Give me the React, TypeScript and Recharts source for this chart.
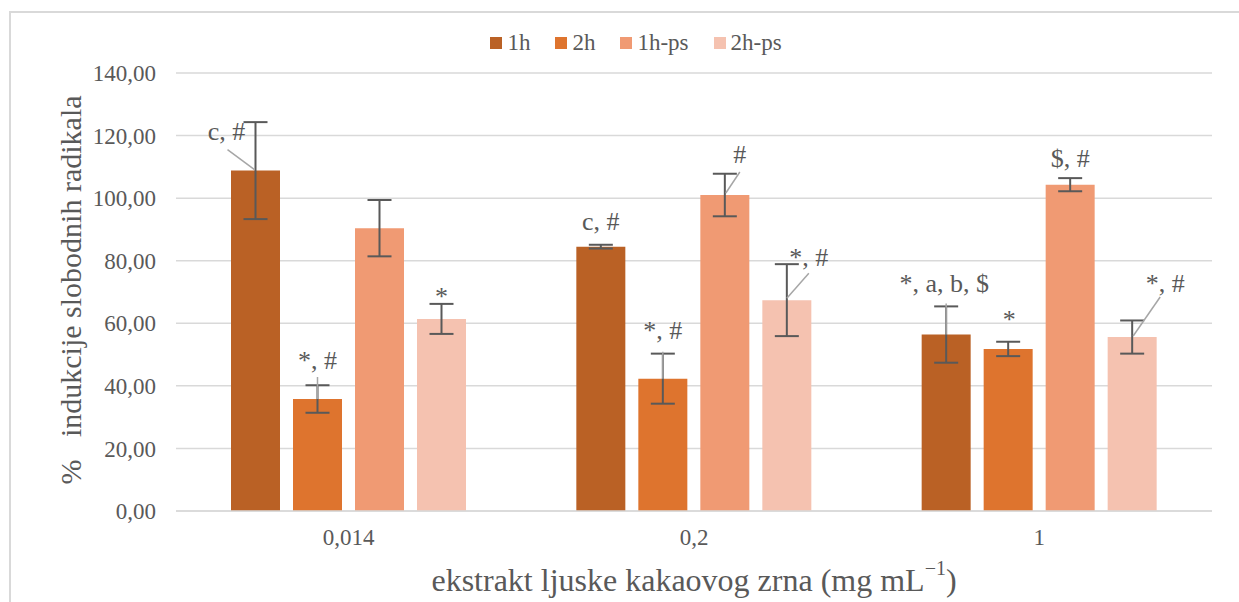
import React from 'react';
import { BarChart, Bar, XAxis, YAxis, CartesianGrid, Legend, ErrorBar, LabelList } from 'recharts';

const categories = ['0,014', '0,2', '1'];
const seriesNames = ['1h', '2h', '1h-ps', '2h-ps'];
const values1h = [108.8, 84.5, 56.4];
const err1h = [15.5, 0.6, 9.0];
const values2h = [35.8, 42.3, 51.8];
const err2h = [4.4, 8.0, 2.3];
const values1hps = [90.4, 101.0, 104.3];
const err1hps = [9.0, 6.8, 2.1];
const values2hps = [61.4, 67.4, 55.6];
const err2hps = [4.8, 11.5, 5.3];
const notes1h = ['c, #', 'c, #', '*, a, b, $'];
const notes2h = ['*, #', '*, #', '*'];
const notes1hps = ['', '#', '$, #'];
const notes2hps = ['*', '*, #', '*, #'];
const yTicks = [0, 20, 40, 60, 80, 100, 120, 140];
const xTitle = 'ekstrakt ljuske kakaovog zrna (mg mL';
const xTitleSup = '\u22121';
const yTitle = '%   indukcije slobodnih radikala';

const colors = ['#BA6125', '#DE742E', '#F09A73', '#F5C2B0'];
const FONT = "'Liberation Serif', Tinos, 'DejaVu Serif', 'Noto Serif', serif";
const TEXT = '#595959';

const data = categories.map((c, i) => ({
  cat: c,
  v1h: values1h[i], e1h: err1h[i], n1h: notes1h[i],
  v2h: values2h[i], e2h: err2h[i], n2h: notes2h[i],
  v1hps: values1hps[i], e1hps: err1hps[i], n1hps: notes1hps[i],
  v2hps: values2hps[i], e2hps: err2hps[i], n2hps: notes2hps[i],
}));

type NoteLayout = { dx: number; dy: number; line?: [number, number, number, number] };
const noteLayout: Record<string, NoteLayout[]> = {
  n1h: [
    { dx: -29, dy: -39, line: [-28, -21, -1, -1] },
    { dx: 0, dy: -25 },
    { dx: -2, dy: -51, line: [0, -31, 0, 0] },
  ],
  n2h: [
    { dx: 0, dy: -38, line: [0, -22, 0, 0] },
    { dx: 0, dy: -48, line: [0, -27, 0, 0] },
    { dx: 1, dy: -29 },
  ],
  n1hps: [
    { dx: 0, dy: -30 },
    { dx: 15, dy: -41, line: [1, -2, 15, -23] },
    { dx: 0, dy: -26 },
  ],
  n2hps: [
    { dx: 0, dy: -22 },
    { dx: 22, dy: -43, line: [0, -2, 22, -27] },
    { dx: 33, dy: -54, line: [1, -1, 28, -40] },
  ],
};

const makeNote = (key: string) => (props: any) => {
  const { x, y, width, index, value } = props;
  if (!value) return null;
  const lay = noteLayout[key][index];
  const cx = Number(x) + Number(width) / 2;
  const top = Number(y);
  return (
    <g>
      {lay.line && (
        <line
          x1={cx + lay.line[0]} y1={top + lay.line[1]}
          x2={cx + lay.line[2]} y2={top + lay.line[3]}
          stroke="#A6A6A6" strokeWidth={1.5}
        />
      )}
      <text x={cx + lay.dx} y={top + lay.dy} textAnchor="middle" dominantBaseline="central"
        style={{ fontFamily: FONT }} fontSize={26} fill={TEXT}>{value}</text>
    </g>
  );
};

const renderLegend = () => (
  <div style={{ display: 'flex', justifyContent: 'center', fontFamily: FONT, fontSize: 23, color: TEXT, lineHeight: '24px' }}>
    {seriesNames.map((n, i) => (
      <div key={n} style={{ display: 'flex', alignItems: 'center', marginRight: i < 3 ? 25 : 0 }}>
        <span style={{ display: 'inline-block', width: 12, height: 12, background: colors[i], marginRight: 5 }} />
        <span>{n}</span>
      </div>
    ))}
  </div>
);

const fmt = (v: number) => v.toFixed(2).replace('.', ',');

const XTitle = (props: any) => {
  const vb = props.viewBox || {};
  const cx = vb.x + vb.width / 2;
  const cy = vb.y + 69;
  return (
    <text x={cx} y={cy} textAnchor="middle" dominantBaseline="central" style={{ fontFamily: FONT }} fontSize={32} fill={TEXT}>
      {xTitle}
      <tspan fontSize={20} dy={-12}>{xTitleSup}</tspan>
      <tspan dy={12}>)</tspan>
    </text>
  );
};

const YTitle = (props: any) => {
  const vb = props.viewBox || {};
  const cx = 70;
  const cy = vb.y + vb.height / 2 - 2;
  return (
    <text x={cx} y={cy} textAnchor="middle" dominantBaseline="central" fontSize={30} fill={TEXT}
      transform={`rotate(-90, ${cx}, ${cy})`} style={{ whiteSpace: 'pre', fontFamily: FONT }}>
      {yTitle}
    </text>
  );
};

export default function App() {
  return (
    <div style={{ position: 'fixed', left: 0, top: 0, width: 1239, height: 602, overflow: 'hidden', background: '#fff', fontFamily: FONT }}>
      <div style={{ position: 'absolute', left: 9, top: 11, width: 1300, height: 700, borderLeft: '2px solid #D9D9D9', borderTop: '2px solid #D9D9D9' }} />
      <div style={{ position: 'absolute', left: 0, top: 0 }}>
        <BarChart width={1239} height={602} data={data} barSize={49} barGap={13}
          margin={{ top: 73, right: 27, left: 116, bottom: 31 }}>
          <CartesianGrid vertical={false} stroke="#D9D9D9" strokeWidth={1.5} />
          <XAxis dataKey="cat" height={60} tickLine={false} tickSize={0} tickMargin={18}
            axisLine={{ stroke: '#D9D9D9', strokeWidth: 1.5 }}
            tick={{ fontSize: 23, fill: TEXT, style: { fontFamily: FONT } }} label={<XTitle />} />
          <YAxis width={60} domain={[0, 140]} ticks={yTicks} interval={0} tickFormatter={fmt}
            axisLine={false} tickLine={false} tickSize={0} tickMargin={20}
            tick={{ fontSize: 23, fill: TEXT, style: { fontFamily: FONT } }} label={<YTitle />} />
          <Legend verticalAlign="middle" layout="horizontal" content={renderLegend}
            wrapperStyle={{ top: 31, left: 10, width: 1252 }} />
          <Bar dataKey="v1h" name="1h" fill={colors[0]} isAnimationActive={false}>
            <ErrorBar dataKey="e1h" width={12} stroke="#595959" strokeWidth={2} />
            <LabelList dataKey="n1h" content={makeNote('n1h')} />
          </Bar>
          <Bar dataKey="v2h" name="2h" fill={colors[1]} isAnimationActive={false}>
            <ErrorBar dataKey="e2h" width={12} stroke="#595959" strokeWidth={2} />
            <LabelList dataKey="n2h" content={makeNote('n2h')} />
          </Bar>
          <Bar dataKey="v1hps" name="1h-ps" fill={colors[2]} isAnimationActive={false}>
            <ErrorBar dataKey="e1hps" width={12} stroke="#595959" strokeWidth={2} />
            <LabelList dataKey="n1hps" content={makeNote('n1hps')} />
          </Bar>
          <Bar dataKey="v2hps" name="2h-ps" fill={colors[3]} isAnimationActive={false}>
            <ErrorBar dataKey="e2hps" width={12} stroke="#595959" strokeWidth={2} />
            <LabelList dataKey="n2hps" content={makeNote('n2hps')} />
          </Bar>
        </BarChart>
      </div>
    </div>
  );
}
